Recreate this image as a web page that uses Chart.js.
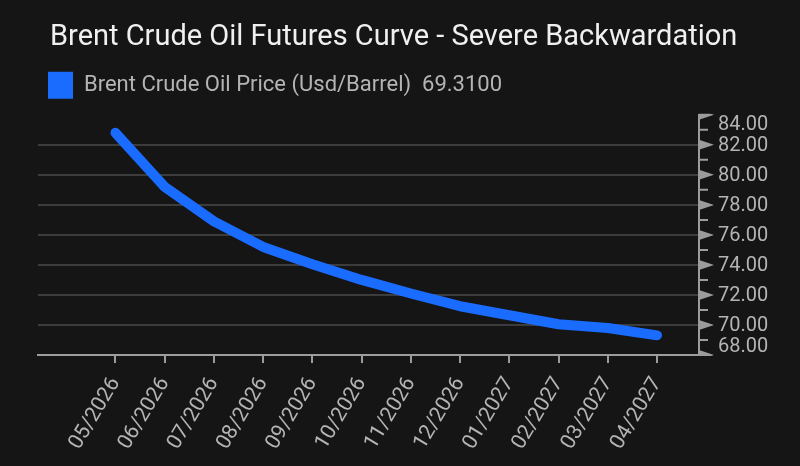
<!DOCTYPE html>
<html>
<head>
<meta charset="utf-8">
<script src="https://cdn.jsdelivr.net/npm/chart.js@4.4.1/dist/chart.umd.min.js"></script>
<style>
  html, body { margin: 0; padding: 0; background: #151515; overflow: hidden; }
  #wrap { position: relative; width: 800px; height: 466px; background: #151515; }
</style>
</head>
<body>
<div id="wrap"><canvas id="c"></canvas></div>
<script>
// ---- data ----
const TITLE = 'Brent Crude Oil Futures Curve - Severe Backwardation';
const SERIES_NAME = 'Brent Crude Oil Price (Usd/Barrel)';
const CATEGORIES = ['05/2026', '06/2026', '07/2026', '08/2026', '09/2026', '10/2026',
                    '11/2026', '12/2026', '01/2027', '02/2027', '03/2027', '04/2027'];
const PRICES = [82.80, 79.20, 76.90, 75.20, 74.05, 73.00, 72.10, 71.25, 70.65, 70.05, 69.80, 69.31];
const Y_TICKS = [68, 70, 72, 74, 76, 78, 80, 82, 84];
const Y_MINOR_TICKS = [69, 71, 73, 75, 77, 79, 81, 83];

// ---- styles ----
const BLUE = '#1a6cff';
const AXIS = '#9c9c9c';
const GRID = '#3c3c3c';
const LABEL = '#b4b4b4';
const FONT = 'Roboto';

const yDecor = {
  id: 'yDecor',
  afterLayout(chart) {
    if (chart.titleBlock) chart.titleBlock.left = chart.chartArea.left + 12;
  },
  afterDraw(chart) {
    const s = chart.scales.y;
    const ctx = chart.ctx;
    const x0 = s.left;
    const top = s.top, bottom = s.bottom;
    ctx.save();
    ctx.beginPath();
    ctx.rect(x0 - 2, top - 1, 40, bottom - top + 2);
    ctx.clip();
    ctx.fillStyle = AXIS;
    ctx.strokeStyle = AXIS;
    ctx.lineWidth = 2;
    Y_MINOR_TICKS.forEach(v => {
      const py = s.getPixelForValue(v);
      ctx.beginPath();
      ctx.moveTo(x0, py);
      ctx.lineTo(x0 + 9, py);
      ctx.stroke();
    });
    Y_TICKS.forEach(v => {
      const py = s.getPixelForValue(v);
      ctx.beginPath();
      ctx.moveTo(x0, py - 5);
      ctx.lineTo(x0 + 15, py);
      ctx.lineTo(x0, py + 5);
      ctx.closePath();
      ctx.fill();
    });
    ctx.restore();
    ctx.save();
    ctx.fillStyle = LABEL;
    ctx.font = '20px ' + FONT;
    ctx.textAlign = 'left';
    ctx.textBaseline = 'middle';
    Y_TICKS.forEach(v => {
      let py = s.getPixelForValue(v);
      py = Math.max(top + 9, Math.min(bottom - 9, py));
      ctx.fillText(v.toFixed(2), x0 + 19, py + 1);
    });
    ctx.restore();
  }
};

new Chart(document.getElementById('c'), {
  type: 'line',
  data: {
    datasets: [{
      label: SERIES_NAME,
      data: PRICES.map((v, i) => ({ x: i, y: v })),
      borderColor: BLUE,
      backgroundColor: BLUE,
      borderWidth: 10,
      pointRadius: 0,
      pointHoverRadius: 0,
      tension: 0,
      borderCapStyle: 'round',
      borderJoinStyle: 'round',
      fill: false
    }]
  },
  options: {
    responsive: true,
    maintainAspectRatio: false,
    animation: false,
    events: [],
    layout: { padding: { left: 38, right: 0, top: 0, bottom: 0 } },
    plugins: {
      tooltip: { enabled: false },
      title: {
        display: true,
        text: TITLE,
        align: 'start',
        color: '#f0f0f0',
        font: { family: FONT, size: 29, weight: 'normal' },
        padding: { top: 20, bottom: 7 }
      },
      legend: {
        display: true,
        align: 'start',
        labels: {
          boxWidth: 25,
          boxHeight: 27,
          padding: 10,
          color: LABEL,
          font: { family: FONT, size: 22 },
          generateLabels: () => [{
            text: SERIES_NAME + '  ' + PRICES[PRICES.length - 1].toFixed(4),
            fillStyle: BLUE,
            strokeStyle: BLUE,
            lineWidth: 0,
            fontColor: LABEL,
            hidden: false,
            datasetIndex: 0
          }]
        }
      }
    },
    scales: {
      x: {
        type: 'linear',
        position: 'bottom',
        min: -1.574,
        max: 11.853,
        afterBuildTicks: s => { s.ticks = CATEGORIES.map((_, i) => ({ value: i })); },
        afterFit: s => { s.height = 111; },
        grid: { display: true, drawOnChartArea: false, drawTicks: true, tickLength: 8, color: AXIS, lineWidth: 2 },
        border: { display: true, color: AXIS, width: 2 },
        ticks: {
          autoSkip: false,
          minRotation: 59,
          maxRotation: 59,
          padding: 10,
          color: LABEL,
          font: { family: FONT, size: 21 },
          callback: v => CATEGORIES[v]
        }
      },
      xTop: {
        type: 'linear',
        position: 'top',
        axis: 'x',
        display: true,
        min: 0,
        max: 1,
        grid: { display: false },
        border: { display: false },
        ticks: { display: false },
        afterFit: s => { s.height = 6; }
      },
      y: {
        type: 'linear',
        position: 'right',
        min: Y_TICKS[0],
        max: Y_TICKS[Y_TICKS.length - 1],
        afterBuildTicks: s => { s.ticks = Y_TICKS.map(v => ({ value: v })); },
        afterFit: s => { s.width = 101; },
        grid: {
          drawTicks: false,
          lineWidth: 2,
          color: c => (c.tick && (c.tick.value === Y_TICKS[0] || c.tick.value === Y_TICKS[Y_TICKS.length - 1])) ? 'rgba(0,0,0,0)' : GRID
        },
        border: { display: true, color: AXIS, width: 2 },
        ticks: { display: false }
      }
    }
  },
  plugins: [yDecor]
});
</script>
</body>
</html>
